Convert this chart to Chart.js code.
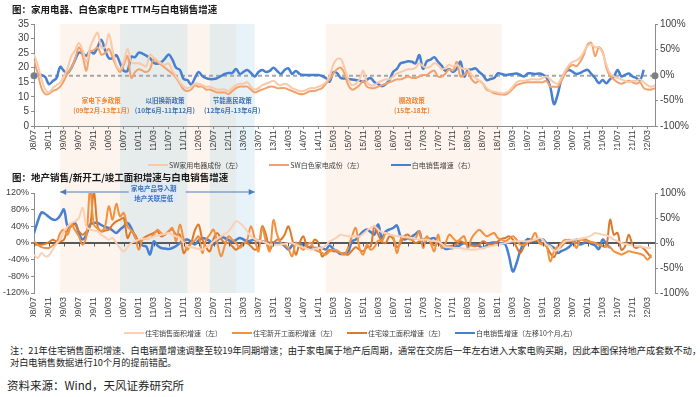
<!DOCTYPE html>
<html lang="zh">
<head>
<meta charset="UTF-8">
<title>家电PE与地产增速</title>
<script src="https://cdn.jsdelivr.net/npm/chart.js"></script>
<style>
  body { margin: 0; background: #fff; font-family: 'Noto Sans CJK SC', sans-serif; }
  #wrap { position: relative; width: 700px; height: 397px; overflow: hidden; background: #fff; }
  .box { position: absolute; left: 0; width: 700px; height: 170px; }
  .title { position: absolute; left: 12px; font-size: 9.5px; font-weight: bold; color: #1a1a1a; z-index: 3; white-space: nowrap; }
  .legend { position: absolute; z-index: 3; font-size: 7px; color: #404040; white-space: nowrap; line-height: 8px; }
  .legend span.item { display: inline-flex; align-items: center; }
  .legend span.ln { display: inline-block; width: 20px; margin-right: 1px; }
  .note { position: absolute; left: 10px; top: 344px; font-size: 9.2px; line-height: 12px; color: #222; white-space: nowrap; }
  .src { position: absolute; left: 7px; top: 377px; font-size: 11.5px; color: #222; white-space: nowrap; }
</style>
</head>
<body>
<div id="wrap">
  <div class="box" style="top:0"><canvas id="peChart"></canvas></div>
  <div class="box" style="top:170px"><canvas id="estateChart"></canvas></div>
  <div class="title" style="top:2px">图：家用电器、白色家电PE TTM与白电销售增速</div>
  <div class="title" style="top:170px">图：地产销售/新开工/竣工面积增速与白电销售增速</div>
  <div class="legend" id="legTop" style="left:148px; top:159px"></div>
  <div class="legend" id="legBottom" style="left:124px; top:327px"></div>
  <div class="note">注：21年住宅销售面积增速、白电销量增速调整至较19年同期增速；由于家电属于地产后周期，通常在交房后一年左右进入大家电购买期，因此本图保持地产成套数不动，<br>对白电销售数据进行10个月的提前错配。</div>
  <div class="src">资料来源：Wind，天风证券研究所</div>
</div>

<script>
// ---- data (monthly, 08/07 .. 22/05) ----
const tickLabels = ['08/07','08/11','09/03','09/07','09/11','10/03','10/07','10/11','11/03','11/07','11/11',
  '12/03','12/07','12/11','13/03','13/07','13/11','14/03','14/07','14/11','15/03','15/07','15/11',
  '16/03','16/07','16/11','17/03','17/07','17/11','18/03','18/07','18/11','19/03','19/07','19/11',
  '20/03','20/07','20/11','21/03','21/07','21/11','22/03'];

// SW家用电器成份 PE TTM
const peAppliance = [
  24.5, 21, 16, 12.5, 11.5, 13, 14, 15, 17, 20,
  24, 26, 28.5, 26, 22, 27, 30, 32, 27, 27,
  31.5, 26, 21, 19.5, 22, 26.5, 22, 21.5, 21.5, 21,
  20.5, 24.5, 23.5, 22.5, 21.5, 21, 21.5, 19, 17, 15,
  13.5, 13, 13.5, 14.5, 14.5, 14, 13.5, 13.5, 13, 12.5,
  12.5, 12.5, 12, 13, 14, 14.5, 14.5, 15, 13.5, 12.5,
  13, 14, 14.5, 15, 15.5, 14.5, 14, 14.5, 14, 13,
  12.5, 12, 12, 12.5, 13, 13, 13.5, 14, 15, 17,
  21, 23, 23, 20, 16, 14, 14.5, 16, 19, 15,
  14, 14, 15, 15.5, 16, 16, 17, 18, 18.5, 19,
  19.5, 19.5, 20, 21.5, 20.5, 20, 20.5, 21.5, 21, 19.5,
  20, 21, 20.5, 21, 20, 19.5, 19.5, 17.5, 16.5, 15.5,
  14.5, 13, 12, 11.8, 11.5, 11.2, 11.3, 12, 13.5, 15,
  15.5, 15.5, 15.8, 16, 16, 16, 16.5, 17, 16, 15,
  14.5, 16.5, 19, 21, 22, 22.5, 23.5, 25.5, 27.5, 28,
  27, 27, 25, 21, 18, 17, 16.5, 16, 15.5, 15,
  15.5, 15.5, 16, 15, 14, 13.5, 14];

// SW白色家电成份 PE TTM
const peWhiteGoods = [
  22.5, 18, 13, 11, 11, 12, 12.5, 13.5, 15.5, 18,
  20, 23, 27, 24, 19, 25.5, 26, 27, 24.5, 25,
  26.5, 23.5, 20.5, 18.5, 21, 24, 16.5, 18.5, 19.5, 19,
  18.5, 19.5, 23, 22, 21, 20, 19, 18, 16.5, 14.5,
  12.5, 12, 12.5, 14, 13.5, 13.5, 12.5, 12.5, 12, 11.5,
  11.5, 11.5, 11, 12, 13, 13.5, 13.5, 13.5, 12.5, 11.5,
  12, 12.5, 13, 13.5, 13.5, 13, 13, 13, 12.5, 12,
  11.5, 11, 11, 11.5, 12, 12, 12.5, 13, 14.5, 16,
  18, 19.5, 20, 18, 14, 12.5, 13, 14, 15.5, 13.5,
  13, 13, 13.5, 14, 14.5, 15, 15.5, 16, 16, 16.5,
  17, 16.5, 16.5, 17, 17.5, 17.5, 18.5, 19, 17, 17,
  18, 19.5, 19, 22, 17, 17.5, 18.5, 16, 14.8, 15.5,
  14.5, 12.5, 12, 11.2, 11, 10.8, 10.8, 11.5, 12.8, 14,
  14.5, 14.8, 15, 15, 15, 15, 15, 15.5, 13.5, 13.5,
  13.5, 15.5, 18, 20, 21, 20.5, 22, 24.5, 28, 28.5,
  24, 27, 25.5, 20, 17, 16, 15, 14.5, 15, 15.5,
  15, 14.5, 15, 13, 12.5, 12.5, 13];

const peMean = 17.2;

// 白电销售增速 (%)
const whiteSales = [
  -4, 2, 0, -4, -18, -12, -6, 16, 8, 4,
  14, 30, 44, 42, 38, 47, 42, 55, 69, 49,
  33, 33, 39, 23, 8, 8, 36, 35, 44, 42,
  38, 33, 24, 22, 25, 32, 40, 30, 14, 10,
  -8, -10, -19, -6, 6, -2, -6, -8, -8, -6,
  -2, 2, 4, 4, 12, 2, 6, 10, 4, -3,
  6, 10, 6, 8, 14, 8, 2, 10, 13, 2,
  8, 2, 0, 0, 0, 0, 0, -2, -6, -13,
  5, 4, -6, -7, -8, -9, -10, -11, -13, -9,
  -6, -14, -18, -22, -18, -10, 6, 12, 23, 25,
  27, 26, 23, 39, 12, 27, 30, 35, 26, 18,
  8, 12, 6, 12, 26, -3, 10, 11, 13, 6,
  0, -10, -8, -6, 3, 2, 0, 1, 2, 3,
  0, -3, 3, 3, 2, 3, 1, -5, -23, -57,
  -38, -8, 5, 10, 6, 2, 4, 8, 10, 2,
  -6, -16, -10, -16, -8, -3, 10, -3, 0, 3,
  -3, -6, -10, 10];

// 住宅销售面积增速 (%)
const saleArea = [
  -28, -36, -24, -32, -30, -16, -2, 8, 28, 40,
  48, 52, 60, 84, 40, 32, 30, 28, 20, 14,
  8, 12, 0, -12, -20, -10, 0, 4, 8, 10,
  10, 12, 15, 18, 20, 22, 24, 20, 16, 12,
  0, -8, -10, -12, -14, -16, -10, -4, 4, 10,
  16, 22, 28, 40, 52, 48, 40, 28, 16, 10,
  6, 4, 0, -4, -4, -4, -4, -2, 0, 0,
  -4, -8, -10, -14, -16, -14, -12, -12, -6, 4,
  8, 14, 20, 18, 16, 16, 16, 16, 22, 30,
  36, 40, 32, 26, 24, 20, 18, 16, 16, 14,
  14, 12, 10, 8, 8, 8, 6, 4, 4, -2,
  -10, -10, -12, -12, -12, -14, -15, -16, -16, -14,
  -12, -10, -8, -6, -4, -2, 0, 2, 4, 4,
  4, 4, 4, 6, 8, 12, 8, -4, -8, -18,
  -16, -4, 4, 6, 8, 8, 10, 12, 14, 18,
  24, 22, 20, 18, 14, 8, 4, 0, -2, -4,
  -6, -8, -8, -10, -12, -12];

// 住宅新开工面积增速 (%)
const newStarts = [
  4, -4, -10, -12, -12, -6, 0, 24, 32, 20,
  44, 30, 16, -4, 16, 130, 44, 35, 28, 40,
  88, 56, 94, 64, 72, 40, 30, 16, -16, 8,
  10, 12, 20, 32, 24, 20, 28, 36, 4, 44,
  10, -16, 0, 6, 16, -24, 8, 20, 32, 0,
  -32, -6, 16, 8, 0, -12, -4, 8, 40, 10,
  -20, 36, 4, -20, 55, 20, 0, -4, -14, -32,
  0, -8, -16, -4, 0, -16, -20, -24, -28, -20,
  -16, -18, -24, -28, -10, 16, 36, -12, -28, -4,
  -16, -10, 6, 4, 24, 20, 16, -24, 8, 16,
  10, 8, 12, 28, -12, 16, 0, -20, 20, -12,
  0, 20, 12, 4, 10, 16, -12, 12, 24, 32,
  24, 16, 20, 24, 12, 8, 4, 10, 16, 8,
  -4, -4, 0, 10, 24, 0, -4, -8, -44, -20,
  -8, 0, 8, 4, 6, -12, 8, 6, 4, 2,
  0, -4, -6, -8, -10, -20, -24, -28, -24, -20,
  -22, -24, -26, -30, -40, -28];

// 住宅竣工面积增速 (%)
const completions = [
  -4, -4, -4, -2, 2, 8, 4, 4, 8, 32,
  40, 44, 28, 20, 28, 40, 125, 40, 28, 30,
  32, 44, 52, 56, 60, 12, 28, 20, 4, 10,
  16, 20, 24, 28, 16, 20, 28, 32, 20, 20,
  -24, -10, 0, 30, 44, 8, -10, -20, 10, 24,
  10, 0, 0, -8, -16, -8, 0, 0, -8, -16,
  -10, 40, 20, -16, 0, 8, 8, 20, 40, 10,
  -28, 0, 16, -8, -8, 8, 0, -32, -24, -16,
  -20, -20, -24, -26, -28, -18, -10, -16, -20, -10,
  -8, 40, 20, 4, 0, 16, 10, -10, 0, 16,
  20, 8, 0, 4, 8, 12, 4, -6, 0, -4,
  -8, -8, -6, -2, 4, 0, -4, -6, -8, -4,
  4, 0, -4, -2, 4, 10, 12, 16, 8, -10,
  -24, -8, 0, 4, 8, 4, 0, -8, -24, -34,
  -16, -8, 2, 8, 4, 0, 8, 10, 6, 2,
  0, -4, -8, -8, 56, 20, 24, -16, -8, 20,
  -4, -12, -8, -14, -24, -36];

// 白电销售增速，左移10个月 (%)
const whiteSalesLead = [
  20, 43, 61, 58, 52, 47, 47, 55, 67, 33,
  38, 40, 20, 7, 17, 37, 40, 40, 36, 32,
  30, 25, 20, 27, 33, 40, 30, 13, 2, -5,
  -7, -23, 3, -5, -10, -11, -12, -10, -6, 0,
  5, 7, 2, -3, 5, 10, 8, 4, -3, 5,
  12, 10, 6, 3, 6, 10, 7, 3, 5, 7,
  5, 3, 2, 0, 1, 0, 0, -6, -13, -5,
  0, -2, -4, -7, -10, -10, -10, -10, -13, -5,
  -12, -17, -22, -21, -17, 3, 7, 15, 23, 27,
  22, 17, 37, 10, 23, 27, 30, 35, 13, 7,
  10, 13, 18, 23, -3, 7, 8, 10, 0, -5,
  -12, -11, -10, -7, -4, 0, -3, -3, -3, -6,
  -10, -5, 0, 1, 1, -1, -3, -27, -57, -40,
  -15, 0, 8, 6, 3, 6, 7, 0, -5, -10,
  -20, -16, -13, -8, 0, 7, -3, 0, 3, -2,
  -5, -12, 7, -2, -10];

// 政策区间
const policyBands = [
  { from: '09/02', to: '13/01', kind: 'orange' },   // 家电下乡
  { from: '15/01', to: '18/12', kind: 'orange' },   // 棚改
  { from: '10/06', to: '11/12', kind: 'blue' },     // 以旧换新
  { from: '12/06', to: '13/06', kind: 'blue' }      // 节能惠民
];
const policyNotes = [
  { lines: ['家电下乡政策', '(09年2月-13年1月)'], at: '10/01', color: '#ef8636' },
  { lines: ['以旧换新政策', '(10年6月-11年12月)'], at: '11/06', color: '#3f73b5' },
  { lines: ['节能惠民政策', '(12年6月-13年6月)'], at: '12/12', color: '#3f73b5' },
  { lines: ['棚改政策', '(15年-18年)'], at: '16/12', color: '#ef8636' }
];

// ---- helpers ----
const LAST = peAppliance.length - 1;
const NUM_FONT = "'Liberation Sans Narrow','Liberation Sans',sans-serif";
const CJK = "'Noto Sans CJK SC',sans-serif";
const BAND = { orange: 'rgba(248,203,173,0.22)', blue: 'rgba(180,215,235,0.30)' };
const BLUE = '#4780d0';

const monthIndex = s => { const [y, m] = s.split('/').map(Number); return (y - 8) * 12 + (m - 7); };
const pts = arr => arr.map((v, i) => ({ x: i, y: v }));

function xAxis(drawLine) {
  return {
    type: 'linear', min: 0, max: LAST,
    afterBuildTicks: a => { a.ticks = tickLabels.map((t, k) => ({ value: k * 4 })); },
    afterFit: s => { s.height = 24; },
    ticks: { callback: v => tickLabels[v / 4], autoSkip: false, minRotation: 90, maxRotation: 90,
             font: { family: NUM_FONT, size: 9 }, color: '#404040', padding: 1 },
    grid: { display: drawLine, drawOnChartArea: false, tickLength: 3, color: '#8c8c8c' },
    border: { display: drawLine, color: '#8c8c8c' }
  };
}

function yAxis(pos, min, max, step, fmt, size) {
  return {
    position: pos, min: min, max: max,
    afterFit: s => { s.width = pos === 'left' ? 34 : 45; },
    ticks: { stepSize: step, autoSkip: false, callback: fmt, font: { family: NUM_FONT, size: size }, color: '#404040', padding: 2 },
    grid: { drawOnChartArea: false, tickLength: 3, color: '#8c8c8c' },
    border: { color: '#8c8c8c' }
  };
}

function bandPlugin(fromChartTop) {
  return {
    id: 'bands',
    beforeDraw(chart) {
      const { ctx, chartArea, scales: { x } } = chart;
      const y0 = fromChartTop ? chartArea.top : 0;
      const y1 = fromChartTop ? chart.height : chartArea.bottom;
      ctx.save();
      policyBands.forEach(b => {
        const a = x.getPixelForValue(monthIndex(b.from));
        const e = x.getPixelForValue(monthIndex(b.to));
        ctx.fillStyle = BAND[b.kind];
        ctx.fillRect(a, y0, e - a, y1 - y0);
      });
      ctx.restore();
    }
  };
}

function lineDs(label, arr, color, width, axis) {
  return { label: label, data: pts(arr), borderColor: color, backgroundColor: color, borderWidth: width,
           pointRadius: 0, tension: 0.35, yAxisID: axis };
}

function buildLegend(chart, el, gap) {
  chart.data.datasets.filter(d => d.label).forEach((d, i) => {
    const it = document.createElement('span');
    it.className = 'item';
    if (i > 0) it.style.marginLeft = gap + 'px';
    it.innerHTML = '<span class="ln" style="height:' + d.borderWidth + 'px;background:' + d.borderColor + '"></span>' + d.label;
    el.appendChild(it);
  });
}

// ---- top chart: PE TTM ----
const notesPlugin = {
  id: 'notes',
  beforeDatasetsDraw(chart) {
    const { ctx, chartArea, scales: { x } } = chart;
    ctx.save();
    ctx.textAlign = 'center';
    ctx.textBaseline = 'middle';
    ctx.font = 'bold 6.5px ' + CJK;
    policyNotes.forEach(n => {
      const px = x.getPixelForValue(monthIndex(n.at));
      ctx.fillStyle = n.color;
      n.lines.forEach((t, k) => ctx.fillText(t, px, chartArea.bottom - 25 + k * 9.5));
    });
    ctx.restore();
  }
};

const peChart = new Chart(document.getElementById('peChart'), {
  type: 'line',
  data: {
    datasets: [
      lineDs('SW家用电器成份（左）', peAppliance, '#f9c9a8', 2, 'y'),
      lineDs('SW白色家电成份（左）', peWhiteGoods, '#f4a26c', 2, 'y'),
      lineDs('白电销售增速（右）', whiteSales, BLUE, 2.5, 'y2'),
      { label: '', data: [{ x: 0, y: peMean }, { x: LAST, y: peMean }], yAxisID: 'y',
        borderColor: '#a6a6a6', borderWidth: 2, borderDash: [4, 3], clip: false,
        pointRadius: 3.5, pointBackgroundColor: '#808080', pointBorderWidth: 0 }
    ]
  },
  options: {
    responsive: true, maintainAspectRatio: false, animation: false,
    layout: { padding: { top: 24, bottom: 20, left: 0, right: 0 } },
    plugins: { legend: { display: false }, tooltip: { enabled: false } },
    scales: {
      x: xAxis(true),
      y: yAxis('left', 0, 35, 5, v => v, 10),
      y2: yAxis('right', -100, 100, 50, v => v + '%', 10)
    }
  },
  plugins: [bandPlugin(true), notesPlugin]
});

// ---- bottom chart: 地产 vs 白电 ----
const estatePlugin = {
  id: 'estate',
  afterDraw(chart) {
    const { ctx, chartArea, scales: { x, y } } = chart;
    ctx.save();
    // ticks on zero line
    const y0 = y.getPixelForValue(0);
    ctx.strokeStyle = '#595959';
    ctx.lineWidth = 1;
    tickLabels.forEach((t, k) => {
      const px = Math.round(x.getPixelForValue(k * 4)) + 0.5;
      ctx.beginPath(); ctx.moveTo(px, y0); ctx.lineTo(px, y0 + 3.5); ctx.stroke();
    });
    // 导入期 arrow
    const xa = x.getPixelForValue(monthIndex('09/02'));
    const xb = x.getPixelForValue(monthIndex('13/06'));
    const cx = x.getPixelForValue(monthIndex('11/03'));
    const ya = chartArea.top - 1;
    ctx.fillStyle = '#dfeaf6';
    ctx.fillRect(cx - 24, chartArea.top - 10, 48, 19);
    ctx.strokeStyle = '#4a7ebb';
    ctx.fillStyle = '#4a7ebb';
    ctx.beginPath(); ctx.moveTo(xa, ya); ctx.lineTo(cx - 25, ya); ctx.moveTo(cx + 32, ya); ctx.lineTo(xb, ya); ctx.stroke();
    [[xa, 1], [xb, -1]].forEach(([px, d]) => {
      ctx.beginPath(); ctx.moveTo(px, ya); ctx.lineTo(px + 6 * d, ya - 3); ctx.lineTo(px + 6 * d, ya + 3); ctx.closePath(); ctx.fill();
    });
    ctx.font = 'bold 6.5px ' + CJK;
    ctx.textAlign = 'center';
    ctx.textBaseline = 'middle';
    ctx.fillStyle = '#3f73b5';
    ctx.fillText('家电产品导入期', cx, chartArea.top - 4);
    ctx.fillText('地产关联度低', cx, chartArea.top + 5.5);
    ctx.restore();
  }
};

const estateY = yAxis('left', -120, 120, 40, v => v + '%', 9);
estateY.grid = {
  drawOnChartArea: true, tickLength: 3, tickColor: '#8c8c8c',
  color: c => c.tick && c.tick.value === 0 ? '#595959' : 'rgba(0,0,0,0)',
  lineWidth: c => c.tick && c.tick.value === 0 ? 2 : 1
};

const estateChart = new Chart(document.getElementById('estateChart'), {
  type: 'line',
  data: {
    datasets: [
      lineDs('住宅销售面积增速（左）', saleArea, '#fbd0b6', 2, 'y'),
      lineDs('住宅新开工面积增速（左）', newStarts, '#f3913f', 2, 'y'),
      lineDs('住宅竣工面积增速（左）', completions, '#dc7a2c', 2, 'y'),
      lineDs('白电销售增速（左移10个月,右）', whiteSalesLead, BLUE, 2.5, 'y2')
    ]
  },
  options: {
    responsive: true, maintainAspectRatio: false, animation: false,
    layout: { padding: { top: 23, bottom: 23, left: 0, right: 0 } },
    plugins: { legend: { display: false }, tooltip: { enabled: false } },
    scales: {
      x: xAxis(false),
      y: estateY,
      y2: yAxis('right', -100, 100, 50, v => v + '%', 10)
    }
  },
  plugins: [bandPlugin(false), estatePlugin]
});

buildLegend(peChart, document.getElementById('legTop'), 27);
buildLegend(estateChart, document.getElementById('legBottom'), 10);
</script>
</body>
</html>
